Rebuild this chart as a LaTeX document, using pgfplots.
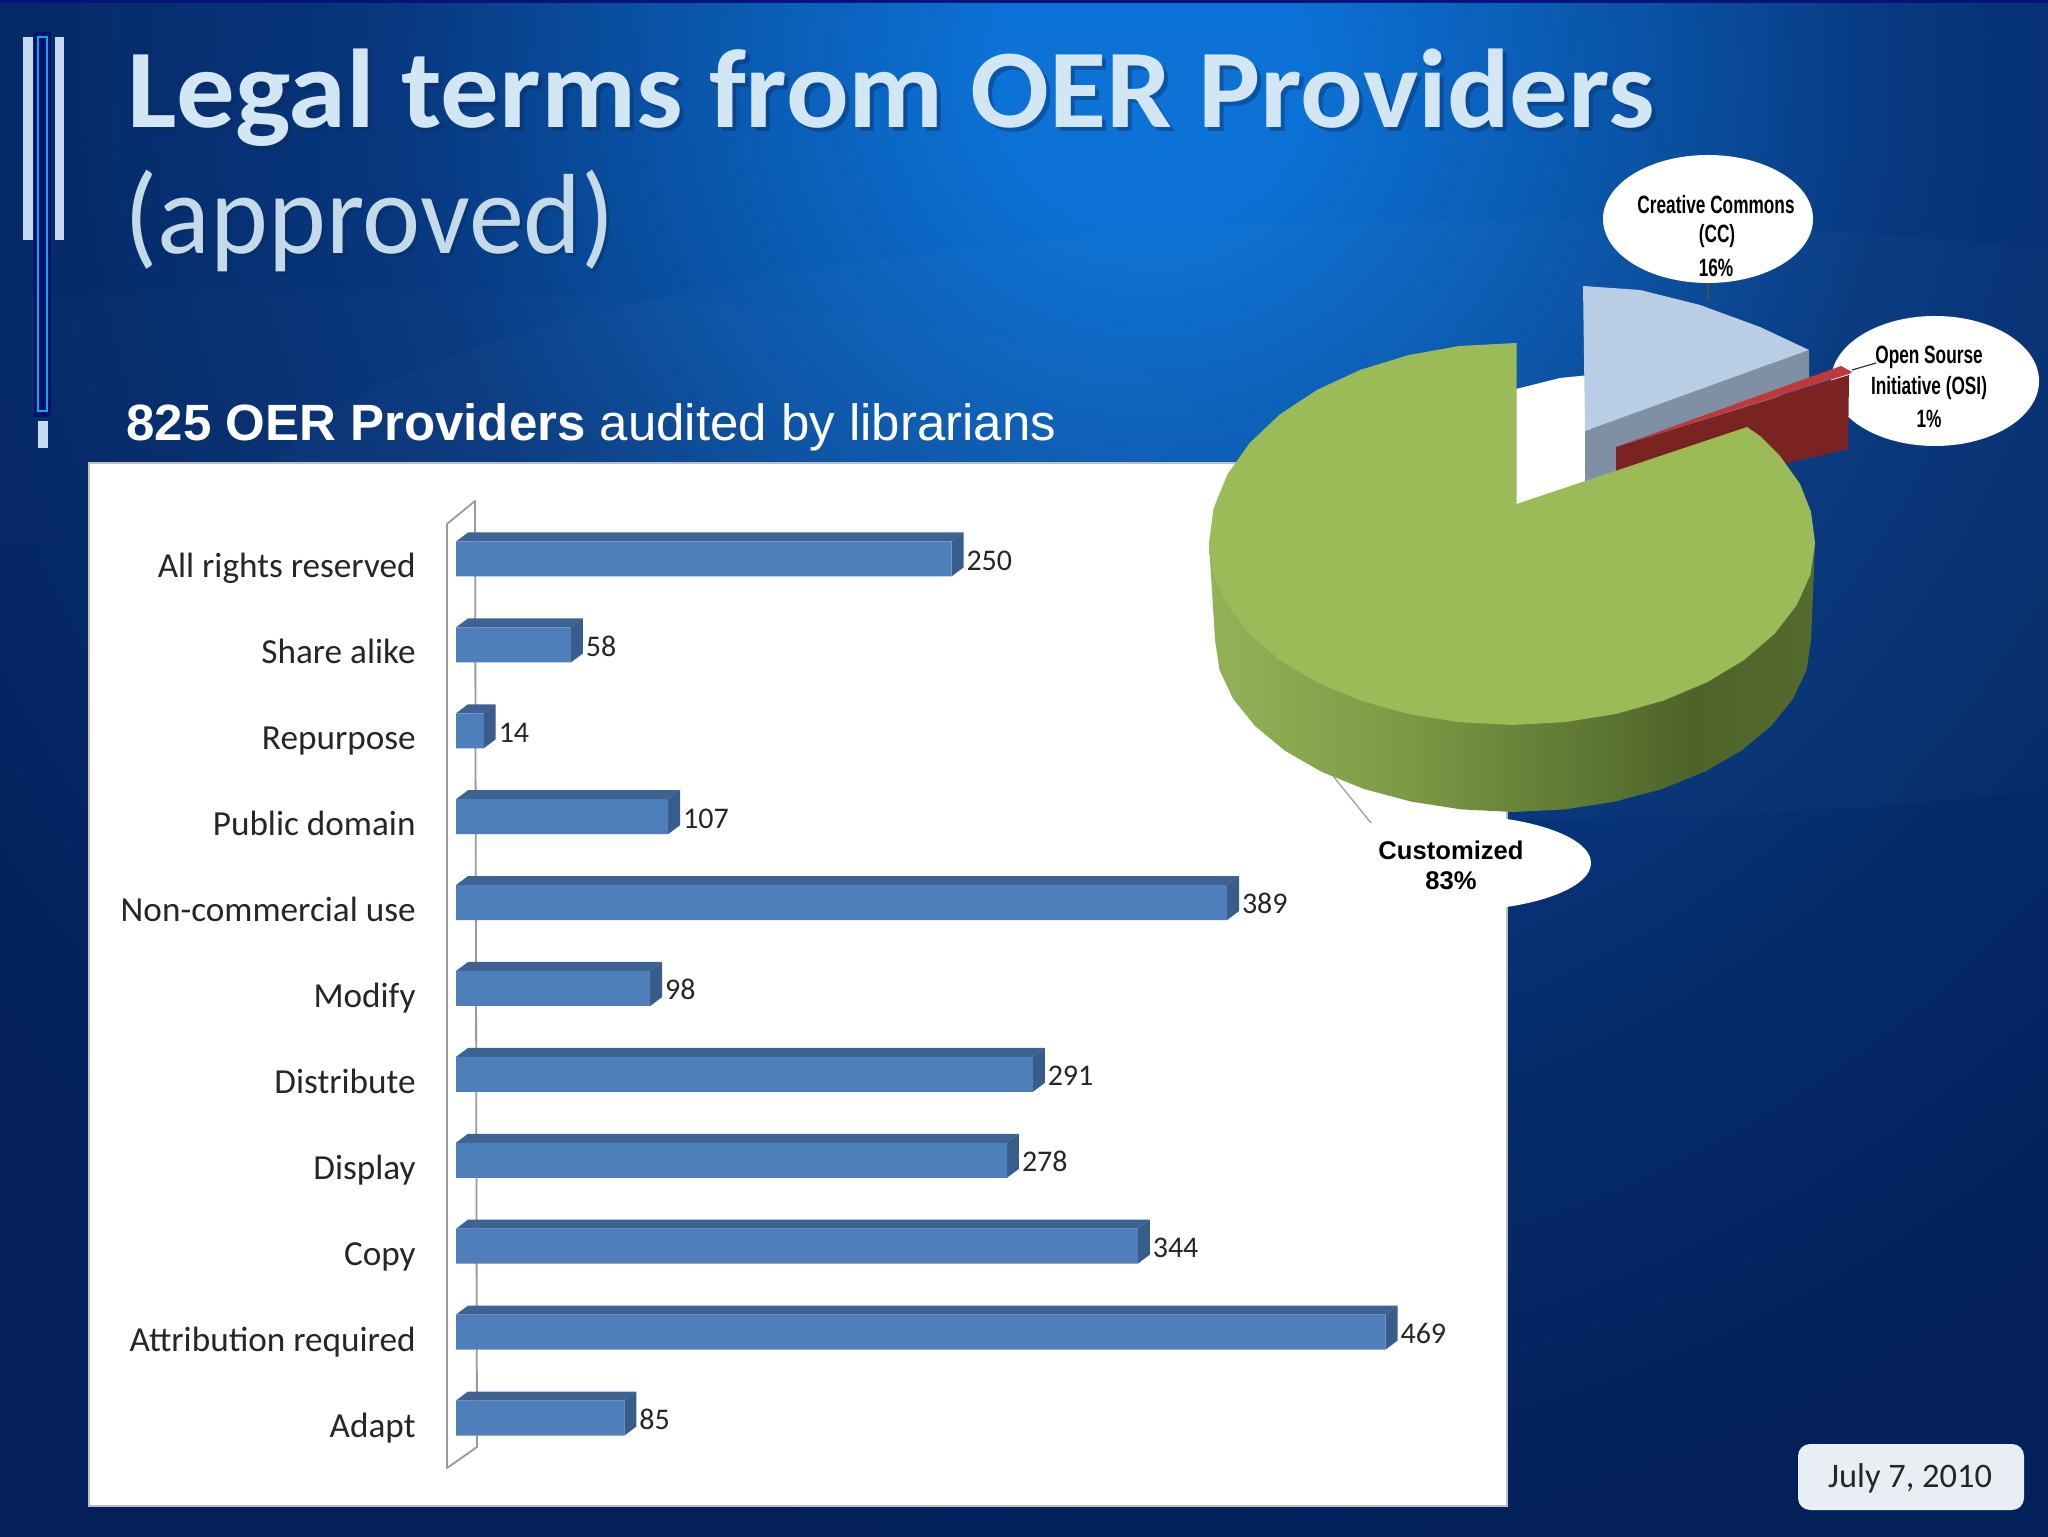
\documentclass[border=0pt]{standalone}
\usepackage{fontspec}
\usepackage{graphicx}
\usepackage{pgfplots}
\pgfplotsset{compat=1.18}
\setmainfont{Carlito}
\newfontfamily\arial{Liberation Sans}
\definecolor{fronth}{HTML}{4F7FBB}
\definecolor{toph}{HTML}{3E6392}
\definecolor{sideh}{HTML}{385D8A}
\definecolor{pietop}{HTML}{9BBB59}
\definecolor{cctop}{HTML}{B9CDE5}
\definecolor{ccside}{HTML}{7F90A5}
\definecolor{redtop}{HTML}{BE3A3A}
\definecolor{redside}{HTML}{7B2222}
\definecolor{bgA}{HTML}{0C72D6}
\definecolor{bgB}{HTML}{0A57AC}
\definecolor{bgC}{HTML}{08387F}
\definecolor{bgD}{HTML}{062C6C}
\definecolor{bgE}{HTML}{03205A}
\definecolor{gs1}{HTML}{93B258}
\definecolor{gs2}{HTML}{7E9C47}
\definecolor{gs3}{HTML}{4E6329}
\definecolor{gs4}{HTML}{556B2D}
\definecolor{accent}{HTML}{C5D9F1}
\definecolor{navy}{HTML}{03126B}
\definecolor{cyanl}{HTML}{14A5E8}
\definecolor{shadowc}{HTML}{0A2A5E}
\definecolor{titlec}{HTML}{D3E6F3}
\definecolor{approvedc}{HTML}{C4DAE9}
\definecolor{edgec}{HTML}{BFBFBF}
\definecolor{wallc}{HTML}{9A9A9A}
\definecolor{datec}{HTML}{E9EEF4}
\definecolor{topline}{HTML}{07127A}
\pgfdeclareradialshading{bgshade}{\pgfpoint{0bp}{0bp}}{color(0bp)=(bgA);color(2.5bp)=(bgA);color(7.5bp)=(bgB);color(12.5bp)=(bgC);color(17.5bp)=(bgD);color(25bp)=(bgE);color(50bp)=(bgE)}
\pgfdeclarehorizontalshading{greenside}{100bp}{color(0bp)=(gs1);color(25bp)=(gs1);color(40bp)=(gs2);color(65bp)=(gs3);color(75bp)=(gs4);color(100bp)=(gs4)}
\begin{document}
\begin{tikzpicture}
\begin{scope}[x=.5pt,y=-.5pt,yshift=768pt]
  % background
  \begin{scope}
    \clip (-4,-4) rectangle (2052,1540);
    \fill[bgE] (-4,-4) rectangle (2052,1540);
    \shade[shading=bgshade] (1150,70) circle [radius=1500];
    \fill[white,opacity=.015] (1500,520) ellipse [x radius=1250, y radius=300];
    \fill[white,opacity=.012] (300,420) ellipse [x radius=900, y radius=130];
    \fill[topline] (-4,-4) rectangle (2052,3);
  \end{scope}
  % left accents
  \fill[accent] (23,37) rectangle (33,240);
  \fill[accent] (55,37) rectangle (64,240);
  \fill[navy] (34,32) rectangle (51,417);
  \draw[cyanl,line width=.8pt] (38,37) rectangle (47,411);
  \fill[accent] (38,421) rectangle (48,448);
  % titles
  \node[anchor=base west,inner sep=0,text=shadowc,opacity=.4] at (131,132) {\scalebox{1.043}[1]{\fontsize{56}{60}\selectfont\bfseries Legal terms from OER Providers}};
  \node[anchor=base west,inner sep=0,text=titlec] at (127,128) {\scalebox{1.043}[1]{\fontsize{56}{60}\selectfont\bfseries Legal terms from OER Providers}};
  \node[anchor=base west,inner sep=0,text=shadowc,opacity=.4] at (127,257) {\scalebox{.966}[1]{\fontsize{57}{60}\selectfont (approved)}};
  \node[anchor=base west,inner sep=0,text=approvedc] at (124,254) {\scalebox{.966}[1]{\fontsize{57}{60}\selectfont (approved)}};
  \node[anchor=base west,inner sep=0,text=white] at (126,441) {\fontsize{25.5}{30}\selectfont\arial\textbf{825 OER Providers} audited by librarians};
  % panel
  \fill[white,draw=edgec,line width=1pt] (89,463) rectangle (1507,1506);
  % 3D wall
  \draw[wallc,line width=.9pt,line join=round] (475,501) -- (477,1447) -- (447,1468) -- (447,524) -- cycle;
  % white data-label ellipses
  \fill[white] (1708,219) ellipse [x radius=105,y radius=64];
  \fill[white] (1935,381) ellipse [x radius=104,y radius=65];
  \fill[white] (1450,863) ellipse [x radius=141,y radius=48];
  % date box
  \fill[datec,rounded corners=6pt] (1798,1444) rectangle (2024,1510);
\end{scope}

% ---------------- bar chart
\begin{axis}[
  x=.991pt, y=42.95pt,
  anchor=origin, at={(228pt,59pt)},
  xmin=0, xmax=510, ymin=-.7, ymax=10.7,
  clip=false,
  axis line style={draw=none},
  xtick=\empty,
  ytick={0,...,10},
  yticklabels={Adapt,Attribution required,Copy,Display,Distribute,Modify,Non-commercial use,Public domain,Repurpose,Share alike,All rights reserved},
  major tick length=0pt,
  yticklabel style={anchor=base east,inner sep=0pt,xshift=-20pt,yshift=-9.5pt,font=\fontsize{17.6}{20}\selectfont,text=black!85},
]
\foreach \v/\y in {85/0,469/1,344/2,278/3,291/4,98/5,389/6,107/7,14/8,58/9,250/10}{
  \pgfmathsetmacro\ya{\y+0.2037}
  \pgfmathsetmacro\yb{\y+0.2037+0.1048}
  \pgfmathsetmacro\yc{\y-0.2037}
  \pgfmathsetmacro\yd{\y-0.2037+0.1048}
  \pgfmathsetmacro\vb{\v+6.05}
  \edef\temp{\noexpand\addplot[fill=toph,draw=none] coordinates {(0,\ya)(\v,\ya)(\vb,\yb)(6.05,\yb)} -- cycle;
    \noexpand\addplot[fill=sideh,draw=none] coordinates {(\v,\ya)(\vb,\yb)(\vb,\yd)(\v,\yc)} -- cycle;}
  \temp
}
\addplot[xbar,bar width=17.5pt,fill=fronth,draw=none,point meta=x,
  /pgf/number format/assume math mode=true,
  nodes near coords,
  every node near coord/.style={anchor=base west,inner sep=0pt,xshift=7.3pt,yshift=-5.7pt,font=\fontsize{15}{18}\selectfont,text=black!85}]
 coordinates {(85,0)(469,1)(344,2)(278,3)(291,4)(98,5)(389,6)(107,7)(14,8)(58,9)(250,10)};
\end{axis}

% ---------------- pie (pixel coordinates)
\begin{axis}[
  width=1024pt,height=768pt,scale only axis,
  at={(0pt,0pt)},anchor=south west,
  xmin=0,xmax=2048,ymin=0,ymax=1536,y dir=reverse,
  hide axis,clip=false]
% white plot-area behind the notch
\addplot[fill=white,draw=none] coordinates {(1516,510)(1516,389)(1560,378)(1590,375)(1590,500)} -- cycle;
% CC slice
\addplot[fill=ccside,draw=none] coordinates {(1585,431)(1809,350)(1809,380)(1700,440)(1585,492)} -- cycle;
\addplot[fill=cctop,draw=none] coordinates {(1583,286)(1640,290)(1700,305)(1760,327)(1809,350)(1585,431)} -- cycle;
% OSI slice
\addplot[fill=redside,draw=none] coordinates {(1616,447)(1849,375)(1848,449)(1766,468)(1700,500)(1616,500)} -- cycle;
\addplot[fill=redtop,draw=none] coordinates {(1616,447)(1841,366)(1852,372)(1849,374)} -- cycle;
% Customized slice: side
\addplot[shading=greenside,draw=none] coordinates {(1209,543)(1215,640)(1219.5,669.9)(1233,698.8)(1255,726)(1284.7,750.6)(1321.4,771.8)(1364,789)(1411.1,801.6)(1461.3,809.4)(1513,812)(1564.7,809.4)(1614.9,801.6)(1662,789)(1704.6,771.8)(1741.3,750.6)(1771,726)(1793,698.8)(1806.5,669.9)(1811,640)(1815,543)} -- cycle;
% Customized slice: top
\addplot[fill=pietop,draw=none] coordinates {(1516.5,343)(1459.4,346)(1408.4,355.1)(1360.5,369.8)(1317.2,389.8)(1279.9,414.4)(1249.6,443)(1227.3,474.6)(1213.6,508.3)(1209,543)(1213.6,574.6)(1227.3,605.2)(1249.6,634)(1279.9,660)(1317.2,682.4)(1360.5,700.6)(1408.4,714)(1459.4,722.2)(1512,725)(1564.6,722.2)(1615.6,714)(1663.5,700.6)(1706.8,682.4)(1744.1,660)(1774.4,634)(1796.7,605.2)(1810.4,574.6)(1815,543)(1811,512)(1800,484)(1780,456)(1760,436)(1747,427)(1516.5,504)} -- cycle;
% leader lines
\addplot[wallc,line width=.6pt] coordinates {(1333,776)(1371,823)};
\addplot[black!80,line width=.6pt] coordinates {(1852,370)(1876,363)};
\addplot[black!70,line width=.6pt] coordinates {(1708,283)(1708,300)};
\end{axis}

\begin{scope}[x=.5pt,y=-.5pt,yshift=768pt]
  \def\nar#1{\scalebox{.69}[1]{\fontsize{12.5}{14}\selectfont\arial\bfseries #1}}
  \node[inner sep=0] at (1716,205) {\nar{Creative Commons}};
  \node[inner sep=0] at (1717,236) {\nar{(CC)}};
  \node[inner sep=0] at (1716,268) {\nar{16\%}};
  \node[inner sep=0] at (1929,357) {\nar{Open Sourse}};
  \node[inner sep=0] at (1929,388) {\nar{Initiative (OSI)}};
  \node[inner sep=0] at (1929,419) {\nar{1\%}};
  \node[inner sep=0] at (1451,850) {\fontsize{12.8}{16}\selectfont\arial\bfseries Customized};
  \node[inner sep=0] at (1451,881) {\fontsize{12.8}{16}\selectfont\arial\bfseries 83\%};
  \node[inner sep=0,text=black!85] at (1910,1478) {\fontsize{17.2}{20}\selectfont July 7, 2010};
\end{scope}
\pgfresetboundingbox
\path[use as bounding box] (0,0) rectangle (1024pt,768pt);
\end{tikzpicture}
\end{document}
